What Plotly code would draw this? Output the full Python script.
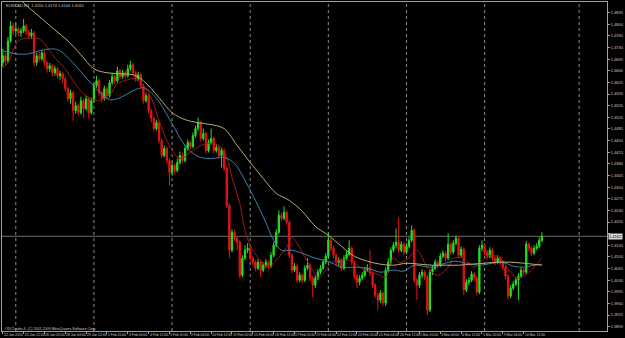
import plotly.graph_objects as go

symbol = "EURCAD,H4"
first_open = 1.4684

closes = [1.4705,1.4690,1.4750,1.4795,1.4780,1.4786,1.4774,1.4780,1.4795,1.4777,
1.4765,1.4774,1.4684,1.4705,1.4696,1.4714,1.4684,1.4666,1.4675,1.4654,
1.4666,1.4645,1.4651,1.4636,1.4606,1.4576,1.4594,1.4540,1.4555,1.4534,
1.4570,1.4546,1.4576,1.4534,1.4570,1.4615,1.4630,1.4594,1.4576,1.4606,
1.4585,1.4624,1.4642,1.4630,1.4660,1.4642,1.4654,1.4645,1.4666,1.4678,
1.4654,1.4636,1.4648,1.4615,1.4570,1.4585,1.4540,1.4516,1.4486,1.4504,
1.4450,1.4405,1.4426,1.4390,1.4354,1.4375,1.4360,1.4384,1.4405,1.4390,
1.4426,1.4444,1.4432,1.4465,1.4486,1.4504,1.4456,1.4471,1.4420,1.4444,
1.4456,1.4420,1.4429,1.4405,1.4420,1.4366,1.4255,1.4120,1.4174,1.4156,
1.4144,1.4045,1.4096,1.4120,1.4126,1.4096,1.4084,1.4066,1.4084,1.4060,
1.4075,1.4084,1.4072,1.4105,1.4135,1.4174,1.4225,1.4216,1.4234,1.4204,
1.4105,1.4060,1.4072,1.4030,1.4045,1.4030,1.4066,1.4075,1.4036,1.4015,
1.4036,1.4054,1.4066,1.4084,1.4102,1.4150,1.4126,1.4105,1.4084,1.4090,
1.4066,1.4096,1.4108,1.4126,1.4084,1.4042,1.4024,1.4036,1.4045,1.4060,
1.4066,1.4051,1.4015,1.3985,1.3970,1.3991,1.3961,1.4060,1.4084,1.4120,
1.4135,1.4144,1.4120,1.4138,1.4114,1.4132,1.4150,1.4180,1.4030,1.4015,
1.4045,1.4054,1.4039,1.3940,1.4054,1.4066,1.4084,1.4075,1.4102,1.4111,
1.4096,1.4138,1.4114,1.4141,1.4156,1.4105,1.4123,1.4000,1.4024,1.4030,
1.4048,1.4036,1.3994,1.4126,1.4135,1.4114,1.4102,1.4120,1.4096,1.4084,
1.4096,1.4084,1.4069,1.4042,1.3982,1.4006,1.4018,1.4030,1.4042,1.4060,
1.4054,1.4138,1.4126,1.4111,1.4126,1.4132,1.4150,1.4162]

highs = [1.4726,1.4714,1.4762,1.4810,1.4804,1.4804,1.4792,1.4789,1.4816,1.4801,
1.4783,1.4786,1.4780,1.4714,1.4717,1.4723,1.4720,1.4690,1.4684,1.4681,
1.4675,1.4672,1.4660,1.4657,1.4642,1.4612,1.4603,1.4600,1.4567,1.4561,
1.4582,1.4576,1.4585,1.4582,1.4579,1.4624,1.4645,1.4636,1.4600,1.4615,
1.4612,1.4633,1.4654,1.4648,1.4672,1.4666,1.4663,1.4660,1.4678,1.4690,
1.4684,1.4660,1.4657,1.4654,1.4621,1.4594,1.4591,1.4546,1.4522,1.4513,
1.4510,1.4456,1.4435,1.4432,1.4396,1.4384,1.4381,1.4396,1.4417,1.4414,
1.4435,1.4453,1.4450,1.4474,1.4495,1.4519,1.4510,1.4486,1.4477,1.4453,
1.4486,1.4462,1.4438,1.4435,1.4429,1.4426,1.4372,1.4261,1.4183,1.4180,
1.4162,1.4150,1.4105,1.4135,1.4141,1.4132,1.4102,1.4090,1.4093,1.4090,
1.4084,1.4093,1.4090,1.4114,1.4144,1.4183,1.4240,1.4234,1.4252,1.4240,
1.4210,1.4111,1.4081,1.4078,1.4054,1.4051,1.4075,1.4096,1.4081,1.4042,
1.4045,1.4063,1.4075,1.4093,1.4111,1.4174,1.4156,1.4132,1.4111,1.4099,
1.4096,1.4105,1.4117,1.4150,1.4132,1.4090,1.4048,1.4045,1.4054,1.4069,
1.4078,1.4120,1.4057,1.4021,1.3991,1.4000,1.3997,1.4069,1.4096,1.4129,
1.4144,1.4186,1.4219,1.4147,1.4144,1.4141,1.4159,1.4195,1.4186,1.4036,
1.4054,1.4063,1.4060,1.4045,1.4063,1.4075,1.4093,1.4090,1.4111,1.4120,
1.4117,1.4171,1.4144,1.4150,1.4165,1.4162,1.4132,1.4129,1.4033,1.4039,
1.4057,1.4054,1.4042,1.4135,1.4150,1.4141,1.4120,1.4129,1.4126,1.4102,
1.4105,1.4102,1.4090,1.4075,1.4048,1.4015,1.4027,1.4039,1.4051,1.4069,
1.4066,1.4147,1.4144,1.4132,1.4135,1.4141,1.4159,1.4174]

lows = [1.4672,1.4678,1.4684,1.4744,1.4768,1.4771,1.4765,1.4762,1.4774,1.4768,
1.4756,1.4756,1.4672,1.4675,1.4687,1.4690,1.4675,1.4654,1.4657,1.4642,
1.4645,1.4636,1.4633,1.4624,1.4597,1.4567,1.4561,1.4510,1.4531,1.4525,
1.4528,1.4519,1.4540,1.4516,1.4528,1.4564,1.4609,1.4585,1.4564,1.4570,
1.4576,1.4579,1.4618,1.4621,1.4624,1.4633,1.4636,1.4636,1.4639,1.4660,
1.4645,1.4627,1.4630,1.4606,1.4561,1.4564,1.4531,1.4504,1.4477,1.4480,
1.4441,1.4396,1.4399,1.4381,1.4315,1.4345,1.4348,1.4354,1.4378,1.4381,
1.4384,1.4420,1.4423,1.4426,1.4459,1.4480,1.4447,1.4450,1.4411,1.4414,
1.4438,1.4411,1.4414,1.4396,1.4369,1.4357,1.4246,1.4096,1.4114,1.4147,
1.4120,1.4036,1.4039,1.4090,1.4111,1.4087,1.4075,1.4057,1.4060,1.4039,
1.4054,1.4066,1.4063,1.4066,1.4099,1.4129,1.4168,1.4207,1.4210,1.4195,
1.4096,1.4051,1.4054,1.4021,1.4024,1.4021,1.4024,1.4060,1.4027,1.3979,
1.4006,1.4030,1.4048,1.4060,1.4078,1.4096,1.4117,1.4096,1.4075,1.4072,
1.4057,1.4060,1.4090,1.4102,1.4075,1.4033,1.4006,1.4015,1.4030,1.4039,
1.4054,1.4042,1.4006,1.3976,1.3940,1.3961,1.3952,1.3952,1.4054,1.4078,
1.4114,1.4126,1.4111,1.4114,1.4105,1.4108,1.4126,1.4144,1.4021,1.3970,
1.4006,1.4036,1.4030,1.3925,1.3934,1.4045,1.4060,1.4066,1.4069,1.4096,
1.4087,1.4090,1.4105,1.4108,1.4135,1.4096,1.4099,1.3985,1.3994,1.4015,
1.4024,1.4027,1.3985,1.3988,1.4117,1.4105,1.4093,1.4096,1.4087,1.4075,
1.4078,1.4075,1.4060,1.4033,1.3970,1.3976,1.4000,1.4012,1.3970,1.4036,
1.4045,1.4048,1.4117,1.4102,1.4105,1.4120,1.4126,1.4144]

# forex bars open at the previous close
opens = [first_open] + closes[:-1]

# moving averages at selected bars
slow_idx = [6,8,12,16,20,25,30,35,40,45,50,54,60,65,70,75,80,85,90,95,100,105,110,115,120,125,130,135,140,145,150,155,160,165,170,175,180,185,190,195,200,207]
slow_val = [1.4882,1.4864,1.4837,1.4810,1.4783,1.4750,1.4708,1.4666,1.4654,1.4651,1.4648,1.4630,1.4579,1.4534,1.4513,1.4504,1.4498,1.4486,1.4435,1.4384,1.4336,1.4291,1.4270,1.4237,1.4192,1.4165,1.4132,1.4102,1.4087,1.4078,1.4075,1.4081,1.4078,1.4075,1.4075,1.4075,1.4078,1.4081,1.4084,1.4084,1.4081,1.4075]

mid_idx = [0,5,10,14,19,22,27,32,37,41,45,50,54,57,60,65,70,75,80,85,89,93,97,101,104,107,111,115,120,125,130,135,140,145,150,154,158,164,170,174,178,183,188,192,196,200,204,207]
mid_val = [1.4720,1.4711,1.4711,1.4720,1.4726,1.4720,1.4684,1.4639,1.4597,1.4573,1.4579,1.4600,1.4609,1.4594,1.4567,1.4501,1.4435,1.4402,1.4396,1.4399,1.4381,1.4330,1.4270,1.4204,1.4150,1.4120,1.4120,1.4111,1.4096,1.4087,1.4069,1.4069,1.4066,1.4054,1.4060,1.4057,1.4075,1.4069,1.4081,1.4087,1.4081,1.4075,1.4081,1.4084,1.4072,1.4069,1.4075,1.4078]

fast_idx = [0,2,6,10,14,16,20,24,27,31,36,41,44,48,50,53,57,60,64,68,72,76,79,83,86,88,91,93,96,100,102,105,109,111,113,116,119,121,124,126,129,133,135,139,143,147,150,152,155,159,163,167,171,173,177,181,183,187,191,195,198,202,207]
fast_val = [1.4669,1.4684,1.4750,1.4759,1.4756,1.4741,1.4699,1.4666,1.4630,1.4591,1.4570,1.4588,1.4621,1.4633,1.4636,1.4624,1.4579,1.4510,1.4435,1.4396,1.4414,1.4435,1.4441,1.4435,1.4399,1.4339,1.4261,1.4180,1.4120,1.4081,1.4069,1.4090,1.4129,1.4159,1.4141,1.4099,1.4060,1.4039,1.4060,1.4081,1.4090,1.4090,1.4081,1.4060,1.4051,1.4039,1.4099,1.4084,1.4090,1.4120,1.4069,1.4045,1.4069,1.4096,1.4096,1.4069,1.4081,1.4105,1.4096,1.4054,1.4036,1.4054,1.4096]

time_tick_bars = [0,8,16,24,32,40,48,56,64,72,80,88,96,104,112,120,128,136,144,152,160,168,176,184,192,200]
time_tick_labels = ["22 Jan 2010","25 Jan 12:00","26 Jan 20:00","28 Jan 04:00","29 Jan 12:00",
"1 Feb 20:00","3 Feb 04:00","4 Feb 12:00","5 Feb 20:00","9 Feb 04:00","10 Feb 12:00",
"11 Feb 20:00","15 Feb 04:00","16 Feb 12:00","17 Feb 20:00","19 Feb 04:00","22 Feb 12:00",
"23 Feb 20:00","25 Feb 04:00","26 Feb 12:00","1 Mar 20:00","3 Mar 04:00","4 Mar 12:00",
"5 Mar 20:00","9 Mar 04:00","10 Mar 12:00"]

separator_bars = [5,35,65,95,125,155,185,221.3]

price_ticks = [round(1.4835 - 0.0035*k, 4) for k in range(28)]

bars = list(range(len(closes)))
GRID = "#8c8c8c"
TXT = "#c8c8c8"
FONT = "Liberation Sans Narrow, Liberation Sans, Arial"

last_close = closes[-1]
# the current-price box covers the nearest grid label
tick_text = [("" if abs(p - last_close) < 0.0016 else f"{p:.4f}") for p in price_ticks]

fig = go.Figure()
fig.add_trace(go.Candlestick(
    x=bars, open=opens, high=highs, low=lows, close=closes,
    increasing=dict(line=dict(color="#22e222", width=1), fillcolor="#22e222"),
    decreasing=dict(line=dict(color="#e81414", width=1), fillcolor="#e81414"),
    whiskerwidth=0, showlegend=False, hoverinfo="skip"))
fig.add_trace(go.Scatter(x=fast_idx, y=fast_val, mode="lines",
    line=dict(color="#a31818", width=1, shape="spline", smoothing=1), showlegend=False, hoverinfo="skip"))
fig.add_trace(go.Scatter(x=mid_idx, y=mid_val, mode="lines",
    line=dict(color="#3f80a8", width=1, shape="spline", smoothing=1), showlegend=False, hoverinfo="skip"))
fig.add_trace(go.Scatter(x=slow_idx, y=slow_val, mode="lines",
    line=dict(color="#b8ad72", width=1, shape="spline", smoothing=1), showlegend=False, hoverinfo="skip"))

shapes = []
for s in separator_bars:
    shapes.append(dict(type="line", xref="x", yref="paper", x0=s, x1=s, y0=0, y1=1,
                       line=dict(color=GRID, width=1, dash="dot"), layer="below"))
shapes.append(dict(type="line", xref="paper", yref="y", x0=0, x1=1, y0=last_close, y1=last_close,
                   line=dict(color="#6e6e6e", width=1), layer="below"))
fig.update_layout(shapes=shapes)

annotations = []
for b, t in zip(time_tick_bars, time_tick_labels):
    annotations.append(dict(x=b, y=-0.012, xref="x", yref="paper", text=t, showarrow=False,
                            xanchor="left", yanchor="middle", xshift=-1,
                            font=dict(size=3.4, color=TXT, family=FONT)))
header = f"{symbol}  {opens[-1]:.4f} {highs[-1]:.4f} {lows[-1]:.4f} {closes[-1]:.4f}"
annotations.append(dict(x=0.004, y=0.99, xref="paper", yref="paper", text=header, showarrow=False,
                        xanchor="left", yanchor="middle", font=dict(size=4, color=TXT, family=FONT)))
annotations.append(dict(x=0.002, y=0.007, xref="paper", yref="paper",
                        text="ODLTrader 4, (C) 2001-2009 MetaQuotes Software Corp.", showarrow=False,
                        xanchor="left", yanchor="middle", font=dict(size=3.6, color=TXT, family=FONT)))
annotations.append(dict(x=1.0, y=last_close, xref="paper", yref="y", text=f"{last_close:.4f}",
                        showarrow=False, xanchor="left", yanchor="middle", bgcolor="#d8d8d8",
                        borderpad=0, xshift=1, font=dict(size=4, color="#000000", family=FONT)))
fig.update_layout(annotations=annotations)

fig.update_layout(
    width=625, height=338,
    margin=dict(l=1, r=13, t=1, b=7, pad=0),
    paper_bgcolor="#000000", plot_bgcolor="#000000",
    xaxis=dict(range=[-0.3, 232.0], showgrid=False, zeroline=False, rangeslider=dict(visible=False),
               showline=True, mirror=True, linecolor="#a0a0a0", linewidth=1,
               tickmode="array", tickvals=time_tick_bars, ticktext=[""]*len(time_tick_bars),
               ticks="outside", ticklen=2, tickcolor="#a0a0a0", showticklabels=False),
    yaxis=dict(range=[1.3877, 1.4867], side="right", showgrid=False, zeroline=False,
               showline=True, mirror=True, linecolor="#a0a0a0", linewidth=1,
               tickmode="array", tickvals=price_ticks, ticktext=tick_text,
               ticks="outside", ticklen=2, tickcolor="#a0a0a0",
               tickfont=dict(size=4, color=TXT, family=FONT)),
)

fig.write_html("out.html")
